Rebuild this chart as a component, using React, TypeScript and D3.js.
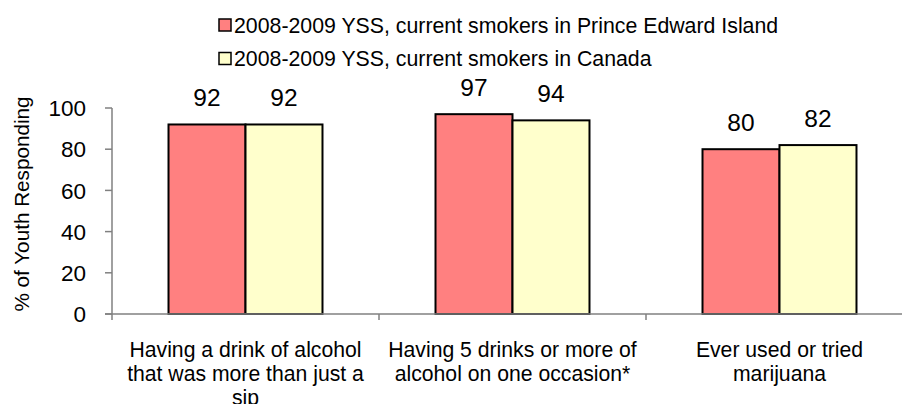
import React from "react";
import * as d3 from "d3";

const categories = [
  "Having a drink of alcohol that was more than just a sip",
  "Having 5 drinks or more of alcohol on one occasion*",
  "Ever used or tried marijuana",
];
const categoryLines = [
  ["Having a drink of alcohol", "that was more than just a", "sip"],
  ["Having 5 drinks or more of", "alcohol on one occasion*"],
  ["Ever used or tried", "marijuana"],
];
const seriesNames = [
  "2008-2009 YSS, current smokers in Prince Edward Island",
  "2008-2009 YSS, current smokers in Canada",
];
const peiValues = [92, 97, 80];
const canadaValues = [92, 94, 82];
const yTicks = [0, 20, 40, 60, 80, 100];
const yTitle = "% of Youth Responding";

const colors = ["#FF8080", "#FFFFCC"];
const FONT = "'Liberation Sans', Arial, Helvetica, sans-serif";

export default function App() {
  const W = 902;
  const H = 404;
  const left = 112;
  const right = 913;
  const top = 108;
  const bottom = 314;

  const x = d3.scaleBand<string>().domain(categories).range([left, right]).padding(0);
  const xs = d3
    .scaleBand<string>()
    .domain(seriesNames)
    .range([0, x.bandwidth()])
    .paddingInner(0)
    .paddingOuter(0.734);
  const y = d3.scaleLinear().domain([0, 100]).range([bottom, top]);

  const values = [peiValues, canadaValues];
  const axisColor = "#808080";

  return (
    <svg
      width={W}
      height={H}
      style={{ position: "absolute", left: 0, top: 0, background: "#fff" }}
      fontFamily={FONT}
    >
      <rect x={0} y={0} width={W} height={H} fill="#fff" />
      {/* Legend */}
      {seriesNames.map((s, i) => (
        <g key={s} transform={`translate(219, ${19 + i * 33.5})`}>
          <rect x={0} y={0} width={12} height={12} fill={colors[i]} stroke="#000" strokeWidth={1.5} />
          <text x={15} y={13.5} fontSize={21.3} fill="#000">
            {s}
          </text>
        </g>
      ))}

      {/* Y axis */}
      <line x1={left} x2={left} y1={top} y2={bottom + 6} stroke={axisColor} strokeWidth={1.5} />
      {yTicks.map((t) => (
        <g key={t}>
          <line x1={left - 7} x2={left} y1={y(t)} y2={y(t)} stroke={axisColor} strokeWidth={1.5} />
          <text x={86} y={y(t)} dy="0.36em" textAnchor="end" fontSize={22.5} fill="#000">
            {t}
          </text>
        </g>
      ))}
      <text
        transform={`translate(29, ${(95 + 313) / 2}) rotate(-90)`}
        textAnchor="middle"
        fontSize={20.7}
        fill="#000"
      >
        {yTitle}
      </text>

      {/* Bars */}
      {categories.map((c, ci) => (
        <g key={c}>
          {seriesNames.map((s, si) => {
            const v = values[si][ci];
            const bx = (x(c) as number) + (xs(s) as number);
            return (
              <g key={s}>
                <rect
                  x={bx}
                  y={y(v)}
                  width={xs.bandwidth()}
                  height={bottom - y(v)}
                  fill={colors[si]}
                  stroke="#000"
                  strokeWidth={2}
                />
                <text
                  x={bx + xs.bandwidth() / 2}
                  y={y(v) - 18}
                  textAnchor="middle"
                  fontSize={24.5}
                  fill="#000"
                >
                  {v}
                </text>
              </g>
            );
          })}
        </g>
      ))}

      {/* X axis */}
      <line x1={left - 7} x2={right} y1={bottom} y2={bottom} stroke={axisColor} strokeWidth={1.5} />
      {categories.map((c) => (
        <line
          key={c}
          x1={(x(c) as number) + x.bandwidth()}
          x2={(x(c) as number) + x.bandwidth()}
          y1={bottom}
          y2={bottom + 6}
          stroke={axisColor}
          strokeWidth={1.5}
        />
      ))}
      {categories.map((c, ci) => (
        <text
          key={c}
          x={(x(c) as number) + x.bandwidth() / 2}
          y={357}
          textAnchor="middle"
          fontSize={21.2}
          fill="#000"
        >
          {categoryLines[ci].map((l, li) => (
            <tspan key={li} x={(x(c) as number) + x.bandwidth() / 2} dy={li === 0 ? 0 : 24}>
              {l}
            </tspan>
          ))}
        </text>
      ))}
    </svg>
  );
}
